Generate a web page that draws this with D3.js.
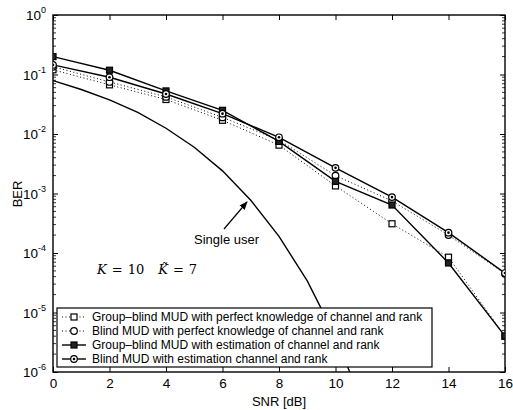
<!DOCTYPE html>
<html><head><meta charset="utf-8">
<script src="https://cdn.jsdelivr.net/npm/d3@7"></script>
<style>body{margin:0;background:#fff}svg{display:block}</style>
</head><body>
<svg id="c" width="513" height="410"></svg>
<script>
const snr = [0, 2, 4, 6, 8, 10, 12, 14, 16];
const groupBlindPerfect = [0.12, 0.067, 0.038, 0.017, 0.0065, 0.00134, 0.00031, 0.000085, 0.000004];
const blindPerfect = [0.135, 0.075, 0.042, 0.019, 0.0079, 0.0020, 0.00075, 0.00020, 0.000045];
const groupBlindEst = [0.20, 0.118, 0.053, 0.025, 0.0075, 0.0016, 0.00064, 0.000068, 0.000004];
const blindEst = [0.145, 0.09, 0.047, 0.022, 0.0088, 0.0027, 0.00087, 0.00022, 0.000046];
const singleSnr = [0, 1, 2, 3, 4, 5, 6, 7, 8, 9, 10, 11];
const singleUser = [0.079, 0.056, 0.0375, 0.023, 0.0125, 0.006, 0.0024, 0.00077, 0.00019, 0.000034, 0.0000039, 0.00000026];
const xTicks = [0, 2, 4, 6, 8, 10, 12, 14, 16];
const yExps = [0, -1, -2, -3, -4, -5, -6];
const legendLabels = [
  "Group\u2013blind MUD with perfect knowledge of channel and rank",
  "Blind MUD with perfect knowledge of channel and rank",
  "Group\u2013blind MUD with estimation of channel and rank",
  "Blind MUD with estimation channel and rank"
];

const svg = d3.select("#c");
const L = 53, R = 505, T = 15, B = 372;
const x = d3.scaleLinear().domain([0, 16]).range([L, R]);
const y = d3.scaleLog().domain([1e-6, 1]).range([B, T]);
const font = "'Liberation Sans', Arial, sans-serif";

svg.append("defs").append("clipPath").attr("id", "clip")
  .append("rect").attr("x", L).attr("y", T).attr("width", R - L).attr("height", B - T);

const minorVals = [];
for (let e = -6; e < 0; e++) for (let m = 2; m <= 9; m++) minorVals.push(m * Math.pow(10, e));

function yAxisMinor(g, left) {
  g.selectAll(null).data(minorVals).enter().append("line")
    .attr("x1", left ? L : R).attr("x2", left ? L + 3 : R - 3)
    .attr("y1", d => y(d)).attr("y2", d => y(d))
    .attr("stroke", "#000").attr("stroke-width", 0.8);
}
const axes = svg.append("g");
axes.append("g").attr("transform", `translate(0,${B})`)
  .call(d3.axisBottom(x).tickValues(xTicks).tickSize(-5).tickPadding(6).tickFormat(d3.format("d")))
  .call(g => g.select(".domain").remove());
axes.append("g").attr("transform", `translate(0,${T})`)
  .call(d3.axisTop(x).tickValues(xTicks).tickSize(-5).tickFormat(""))
  .call(g => g.select(".domain").remove());
axes.append("g").attr("transform", `translate(${L},0)`)
  .call(d3.axisLeft(y).tickValues(yExps.map(e => Math.pow(10, e))).tickSize(-5).tickFormat(""))
  .call(g => g.select(".domain").remove());
axes.append("g").attr("transform", `translate(${R},0)`)
  .call(d3.axisRight(y).tickValues(yExps.map(e => Math.pow(10, e))).tickSize(-5).tickFormat(""))
  .call(g => g.select(".domain").remove());
yAxisMinor(axes, true);
yAxisMinor(axes, false);
axes.selectAll("line").attr("stroke", "#000");
axes.selectAll("text").attr("font-family", font).attr("font-size", 13.5).attr("fill", "#000");

yExps.forEach(e => {
  const t = svg.append("text").attr("x", 46).attr("y", y(Math.pow(10, e)) + 5)
    .attr("text-anchor", "end").attr("font-family", font).attr("font-size", 13.5);
  t.append("tspan").text("10");
  t.append("tspan").attr("font-size", 9).attr("dy", -7).text(e === 0 ? "0" : "-" + (-e));
});

svg.append("rect").attr("x", L).attr("y", T).attr("width", R - L).attr("height", B - T)
  .attr("fill", "none").attr("stroke", "#000").attr("stroke-width", 1.4);

const plot = svg.append("g").attr("clip-path", "url(#clip)");
const line = d3.line().x(d => x(d[0])).y(d => y(d[1]));

plot.append("path").datum(singleSnr.map((s, i) => [s, singleUser[i]]))
  .attr("d", line).attr("fill", "none").attr("stroke", "#000").attr("stroke-width", 1.4);

const series = [
  {vals: groupBlindPerfect, dash: "1,2.5", marker: "square", fill: "#fff", w: 1},
  {vals: blindPerfect, dash: "1,2.5", marker: "circle", fill: "#fff", w: 1},
  {vals: groupBlindEst, dash: null, marker: "square", fill: "#222", w: 1.4},
  {vals: blindEst, dash: null, marker: "circledot", fill: "#fff", w: 1.4}
];

function drawMarker(g, type, cx, cy, fill) {
  if (type === "square") {
    g.append("rect").attr("x", cx - 3).attr("y", cy - 3).attr("width", 6).attr("height", 6)
      .attr("fill", fill).attr("stroke", "#000").attr("stroke-width", 1.2);
  } else {
    g.append("circle").attr("cx", cx).attr("cy", cy).attr("r", 3.3)
      .attr("fill", "#fff").attr("stroke", "#000").attr("stroke-width", 1.2);
    if (type === "circledot")
      g.append("circle").attr("cx", cx).attr("cy", cy).attr("r", 1.3).attr("fill", "#000");
  }
}

series.forEach(s => {
  const pts = snr.map((v, i) => [v, s.vals[i]]);
  const p = plot.append("path").datum(pts).attr("d", line).attr("fill", "none")
    .attr("stroke", "#000").attr("stroke-width", s.w);
  if (s.dash) p.attr("stroke-dasharray", s.dash);
});
series.forEach(s => {
  snr.forEach((v, i) => drawMarker(plot, s.marker, x(v), y(s.vals[i]), s.fill));
});

svg.append("text").attr("x", 194).attr("y", 244).attr("font-family", font).attr("font-size", 13)
  .text("Single user");
svg.append("defs").append("marker").attr("id", "ah").attr("viewBox", "0 0 10 10")
  .attr("refX", 9).attr("refY", 5).attr("markerWidth", 7).attr("markerHeight", 7).attr("orient", "auto")
  .append("path").attr("d", "M0,1 L10,5 L0,9 Z").attr("fill", "#000");
svg.append("line").attr("x1", 224).attr("y1", 229).attr("x2", 247).attr("y2", 202)
  .attr("stroke", "#000").attr("stroke-width", 1.2).attr("marker-end", "url(#ah)");

const kt = svg.append("text").attr("x", 97).attr("y", 274)
  .attr("font-family", "'DejaVu Serif', 'Liberation Serif', serif").attr("font-size", 13);
kt.append("tspan").attr("font-style", "italic").text("K");
kt.append("tspan").attr("dx", 5).text("=");
kt.append("tspan").attr("dx", 5).text("10");
kt.append("tspan").attr("dx", 14).attr("font-style", "italic").text("K\u0303");
kt.append("tspan").attr("dx", 5).text("=");
kt.append("tspan").attr("dx", 5).text("7");

const lg = svg.append("g");
lg.append("rect").attr("x", 57).attr("y", 308).attr("width", 375).attr("height", 59)
  .attr("fill", "#fff").attr("stroke", "#000").attr("stroke-width", 1.2);
legendLabels.forEach((lab, i) => {
  const s = series[i];
  const cy = 317 + i * 14;
  const l = lg.append("line").attr("x1", 62).attr("x2", 86).attr("y1", cy).attr("y2", cy)
    .attr("stroke", "#000").attr("stroke-width", s.w);
  if (s.dash) l.attr("stroke-dasharray", s.dash);
  drawMarker(lg, s.marker, 74, cy, s.fill);
  lg.append("text").attr("x", 92).attr("y", cy + 4).attr("font-family", font).attr("font-size", 12)
    .text(lab);
});

svg.append("text").attr("x", 279).attr("y", 406).attr("text-anchor", "middle")
  .attr("font-family", font).attr("font-size", 13).text("SNR [dB]");
svg.append("text").attr("transform", "translate(22,194) rotate(-90)").attr("text-anchor", "middle")
  .attr("font-family", font).attr("font-size", 13).text("BER");
</script>
</body></html>
